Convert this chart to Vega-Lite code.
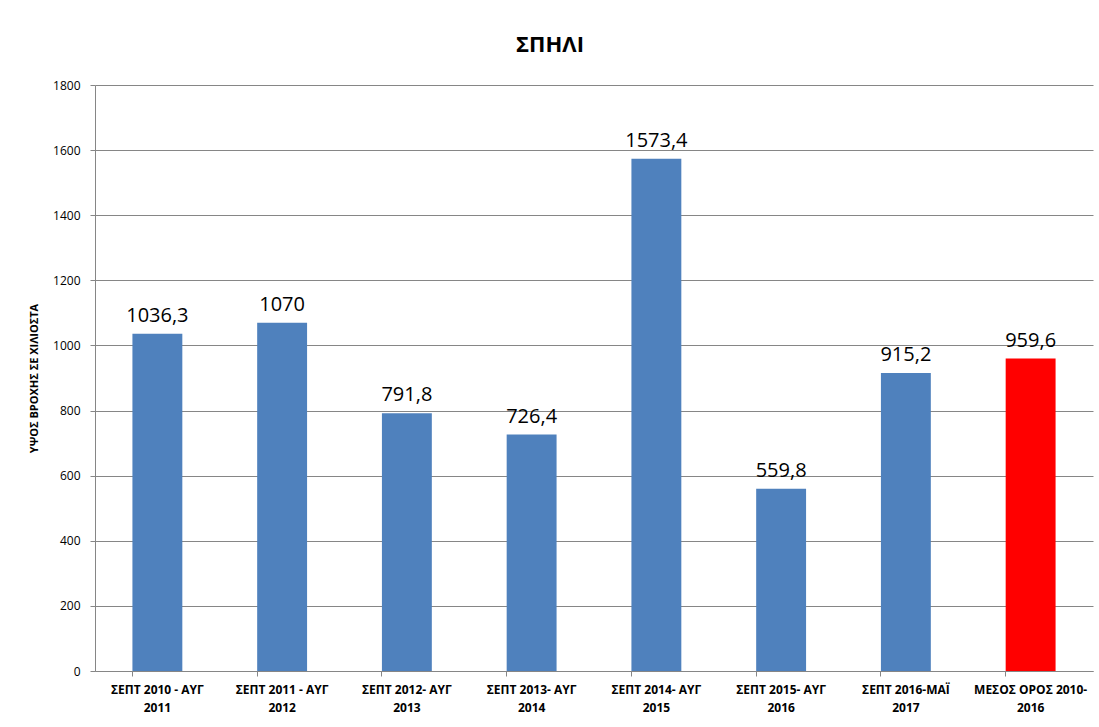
{
  "$schema": "https://vega.github.io/schema/vega-lite/v6.json",
  "width": 998,
  "height": 586,
  "autosize": {"type": "none"},
  "padding": {"left": 95, "top": 85, "right": 6, "bottom": 56},
  "background": "white",
  "config": {
    "font": "Open Sans",
    "view": {"stroke": null},
    "locale": {"number": {"decimal": ",", "thousands": ".", "grouping": [3], "currency": ["", " €"]}}
  },
  "title": {"text": "ΣΠΗΛΙ", "fontSize": 22, "fontWeight": "bold", "font": "Open Sans", "color": "#000000", "dx": -44, "offset": 22},
  "data": {
    "values": [
      {"period": "ΣΕΠΤ 2010 - ΑΥΓ|2011", "mm": 1036.3, "kind": "year"},
      {"period": "ΣΕΠΤ 2011 - ΑΥΓ|2012", "mm": 1070, "kind": "year"},
      {"period": "ΣΕΠΤ 2012- ΑΥΓ|2013", "mm": 791.8, "kind": "year"},
      {"period": "ΣΕΠΤ 2013- ΑΥΓ|2014", "mm": 726.4, "kind": "year"},
      {"period": "ΣΕΠΤ 2014- ΑΥΓ|2015", "mm": 1573.4, "kind": "year"},
      {"period": "ΣΕΠΤ 2015- ΑΥΓ|2016", "mm": 559.8, "kind": "year"},
      {"period": "ΣΕΠΤ 2016-ΜΑΪ|2017", "mm": 915.2, "kind": "year"},
      {"period": "ΜΕΣΟΣ ΟΡΟΣ 2010-|2016", "mm": 959.6, "kind": "mean"}
    ]
  },
  "encoding": {
    "x": {
      "field": "period", "type": "nominal", "sort": null,
      "scale": {"paddingInner": 0.6, "paddingOuter": 0.3},
      "axis": {
        "title": null, "labelAngle": 0, "labelExpr": "split(datum.label, '|')",
        "labelFont": "Open Sans", "labelFontSize": 12, "labelFontWeight": "bold", "labelColor": "#000000",
        "labelLineHeight": 18, "labelPadding": 8, "bandPosition": 0,
        "domainColor": "#868686", "tickColor": "#868686", "tickSize": 5, "grid": false
      }
    },
    "y": {
      "field": "mm", "type": "quantitative",
      "scale": {"domain": [0, 1800]},
      "axis": {
        "title": "ΥΨΟΣ ΒΡΟΧΗΣ  ΣΕ ΧΙΛΙΟΣΤΑ", "titleFont": "Open Sans", "titleFontSize": 11, "titleFontWeight": "bold", "titleColor": "#000000", "titlePadding": 13,
        "values": [0, 200, 400, 600, 800, 1000, 1200, 1400, 1600, 1800], "format": "d",
        "labelFont": "Open Sans", "labelFontSize": 12, "labelColor": "#000000", "labelPadding": 10,
        "domainColor": "#868686", "tickColor": "#868686", "tickSize": 5,
        "grid": true, "gridColor": "#868686", "gridWidth": 1
      }
    }
  },
  "layer": [
    {
      "mark": {"type": "bar"},
      "encoding": {
        "color": {"field": "kind", "type": "nominal", "scale": {"domain": ["year", "mean"], "range": ["#4F81BD", "#FF0000"]}, "legend": null}
      }
    },
    {
      "mark": {"type": "text", "baseline": "bottom", "dy": -8, "fontSize": 20, "font": "Open Sans", "color": "#000000"},
      "encoding": {"text": {"field": "mm", "type": "quantitative", "format": ".1~f"}}
    }
  ]
}
